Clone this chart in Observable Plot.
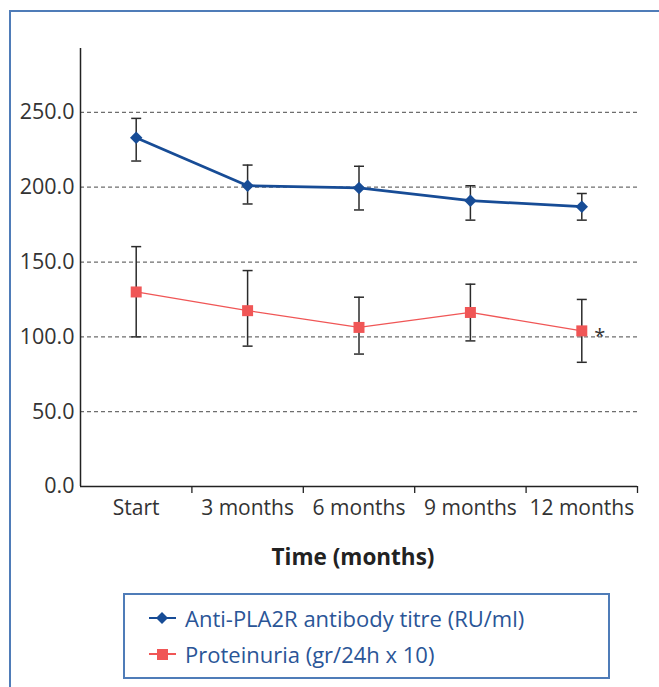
<!DOCTYPE html>
<html>
<head>
<meta charset="utf-8">
<script src="https://cdn.jsdelivr.net/npm/d3@7"></script>
<script src="https://cdn.jsdelivr.net/npm/@observablehq/plot@0.6"></script>
<style>
  html, body { margin: 0; padding: 0; background: #fff; }
  #wrap { position: relative; width: 659px; height: 687px; overflow: hidden; font-family: "Open Sans", "Noto Sans", sans-serif; }
  #frame { position: absolute; left: 9px; top: 10px; width: 700px; height: 740px; border: 2px solid #4f7cb8; box-sizing: border-box; }
  #chart { position: absolute; left: 0; top: 0; }
  #legend { position: absolute; left: 123px; top: 593px; width: 487px; height: 86px; border: 2px solid #4f7cb8; box-sizing: border-box; background: #fff; }
  .item { position: absolute; left: 24px; height: 28px; display: flex; align-items: center; color: #2a5597; font-size: 22px; white-space: nowrap; }
  .item svg { margin-right: 9px; }
</style>
</head>
<body>
<div id="wrap">
  <div id="frame"></div>
  <div id="chart"></div>
  <div id="legend"></div>
</div>
<script>
const categories = ["Start", "3 months", "6 months", "9 months", "12 months"];
const pla2rMean = [233, 201, 199.5, 191, 187];
const pla2rLow  = [217.5, 188.8, 184.8, 178, 178];
const pla2rHigh = [246, 214.8, 214, 201, 195.8];
const protMean  = [130, 117.5, 106.3, 116.3, 104];
const protLow   = [100, 93.8, 88.5, 97.3, 83];
const protHigh  = [160.3, 144.3, 126.5, 135.2, 125];
const yTicks = [0, 50, 100, 150, 200, 250];
const seriesNames = ["Anti-PLA2R antibody titre (RU/ml)", "Proteinuria (gr/24h x 10)"];
const xTitle = "Time (months)";
const starLabel = "*";

const blue = "#174c96";
const red = "#f05656";

const pla2r = categories.map((c, i) => ({i: i + 0.5, cat: c, mean: pla2rMean[i], lo: pla2rLow[i], hi: pla2rHigh[i]}));
const prot = categories.map((c, i) => ({i: i + 0.5, cat: c, mean: protMean[i], lo: protLow[i], hi: protHigh[i]}));

// horizontal cap drawn as a custom symbol
const capSymbol = {draw(ctx, size) { const w = 5; ctx.moveTo(-w, 0); ctx.lineTo(w, 0); }};
function errorMarks(data) {
  return [
    Plot.ruleX(data, {x: "i", y1: "lo", y2: "hi", stroke: "#2b2b2b", strokeWidth: 1.5}),
    Plot.dot(data, {x: "i", y: "lo", symbol: capSymbol, stroke: "#2b2b2b", strokeWidth: 1.5, fill: "none"}),
    Plot.dot(data, {x: "i", y: "hi", symbol: capSymbol, stroke: "#2b2b2b", strokeWidth: 1.5, fill: "none"})
  ];
}

const plot = Plot.plot({
  width: 659,
  height: 687,
  marginLeft: 80,
  marginRight: 22,
  marginTop: 48,
  marginBottom: 201,
  style: {fontFamily: "'Open Sans', 'Noto Sans', sans-serif", background: "transparent", color: "#333"},
  x: {type: "linear", domain: [0, 5], axis: null, label: null},
  y: {domain: [0, 292.7], axis: null, label: null},
  marks: [
    Plot.gridY(yTicks.filter(d => d > 0), {stroke: "#6e6e6e", strokeOpacity: 1, strokeWidth: 1.2, strokeDasharray: "4,3"}),
    Plot.axisY({ticks: yTicks, tickFormat: d3.format(".1f"), tickSize: 0, tickPadding: 6, fontSize: 21.5, fill: "#333", label: null}),
    Plot.axisX({ticks: [1, 2, 3, 4, 5], tickFormat: () => "", tickSize: 7, stroke: "#222", strokeWidth: 1.3, label: null}),
    Plot.axisX({ticks: categories.map((c, i) => i + 0.5), tickFormat: (d) => categories[Math.round(d - 0.5)], tickSize: 0, tickPadding: 14, fontSize: 21, fill: "#333", label: null}),
    Plot.text([xTitle], {x: 2.5, frameAnchor: "bottom", dy: 71, fontSize: 22.5, fontWeight: "bold", fill: "#222", dx: -6, lineAnchor: "middle"}),
    Plot.ruleX([0], {y1: 0, y2: 292.7, stroke: "#222", strokeWidth: 1.5}),
    Plot.ruleY([0], {x1: 0, x2: 5, stroke: "#222", strokeWidth: 1.5}),
    ...errorMarks(pla2r),
    ...errorMarks(prot),
    Plot.line(prot, {x: "i", y: "mean", stroke: red, strokeWidth: 1.3}),
    Plot.dot(prot, {x: "i", y: "mean", symbol: "square", r: 6.2, fill: red, stroke: "none"}),
    Plot.line(pla2r, {x: "i", y: "mean", stroke: blue, strokeWidth: 2.8}),
    Plot.dot(pla2r, {x: "i", y: "mean", symbol: "diamond2", r: 5.6, fill: blue, stroke: "none"}),
    Plot.text([prot[4]], {x: "i", y: "mean", text: () => starLabel, dx: 18, dy: 6, fontSize: 20, fill: "#333"})
  ]
});
document.getElementById("chart").appendChild(plot);

// legend
const legend = document.getElementById("legend");
const items = [
  {name: seriesNames[0], color: blue, shape: "diamond", top: 9},
  {name: seriesNames[1], color: red, shape: "square", top: 45}
];
for (const it of items) {
  const div = document.createElement("div");
  div.className = "item";
  div.style.top = it.top + "px";
  const sym = it.shape === "diamond"
    ? `<path d="M13,8 L19,14 L13,20 L7,14 Z" fill="${it.color}"/>`
    : `<rect x="8" y="9" width="11" height="11" fill="${it.color}"/>`;
  div.innerHTML = `<svg width="27" height="28"><line x1="0" x2="27" y1="14" y2="14" stroke="${it.color}" stroke-width="2"/>${sym}</svg><span>${it.name}</span>`;
  legend.appendChild(div);
}
</script>
</body>
</html>
